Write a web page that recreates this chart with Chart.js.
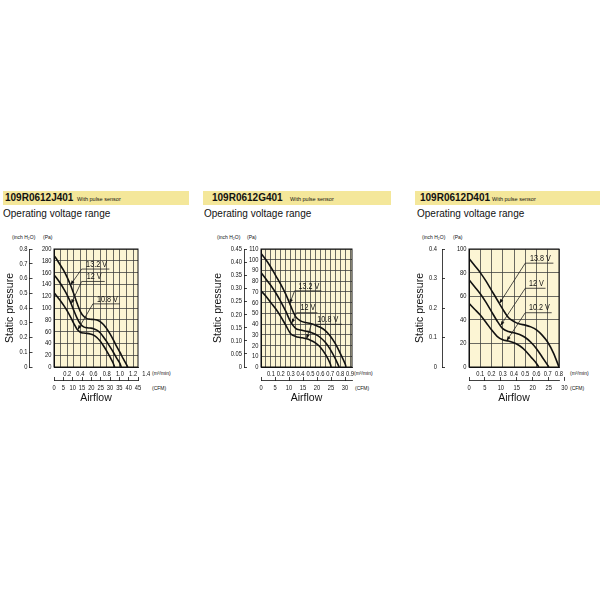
<!DOCTYPE html>
<html><head><meta charset="utf-8">
<script src="https://cdn.jsdelivr.net/npm/chart.js@4.4.1/dist/chart.umd.min.js"></script>
<style>
html,body{margin:0;padding:0;background:#fff;}
body{width:600px;height:600px;position:relative;overflow:hidden;font-family:'Liberation Sans',Arial,Helvetica,sans-serif;color:#111;}
.abs{position:absolute;white-space:nowrap;}
.band{position:absolute;top:191px;height:14px;background:#f4e79a;}
.model{font-weight:bold;font-size:10px;line-height:10px;top:193px;}
.sub{font-size:5.5px;line-height:6px;top:196px;}
.op{font-size:10px;line-height:10px;top:209px;}
.unit{font-size:5px;line-height:5px;}
canvas{position:absolute;top:230px;}
</style></head>
<body>
<div class="band" style="left:3px;width:186px"></div>
<div class="band" style="left:203px;width:188px"></div>
<div class="band" style="left:415px;width:185px"></div>
<div class="abs model" style="left:5px">109R0612J401</div>
<div class="abs model" style="left:212px">109R0612G401</div>
<div class="abs model" style="left:420px">109R0612D401</div>
<div class="abs sub" style="left:77px">With pulse sensor</div>
<div class="abs sub" style="left:290px">With pulse sensor</div>
<div class="abs sub" style="left:492px">With pulse sensor</div>
<div class="abs op" style="left:3px">Operating voltage range</div>
<div class="abs op" style="left:204px">Operating voltage range</div>
<div class="abs op" style="left:417px">Operating voltage range</div>

<div class="abs unit" style="left:12px;top:234.5px">(inch H₂O)</div>
<div class="abs unit" style="left:43px;top:234.5px">(Pa)</div>
<div class="abs unit" style="left:217px;top:234.5px">(inch H₂O)</div>
<div class="abs unit" style="left:247px;top:234.5px">(Pa)</div>
<div class="abs unit" style="left:422px;top:234.5px">(inch H₂O)</div>
<div class="abs unit" style="left:453px;top:234.5px">(Pa)</div>

<div class="abs unit" style="left:152px;top:370.5px">(m³/min)</div>
<div class="abs unit" style="left:152px;top:386px">(CFM)</div>
<div class="abs unit" style="left:354px;top:370.5px">(m³/min)</div>
<div class="abs unit" style="left:355px;top:386px">(CFM)</div>
<div class="abs unit" style="left:570px;top:370.5px">(m³/min)</div>
<div class="abs unit" style="left:570px;top:386px">(CFM)</div>

<canvas id="c1" width="200" height="180" style="left:0px"></canvas>
<canvas id="c2" width="195" height="180" style="left:205px"></canvas>
<canvas id="c3" width="190" height="180" style="left:410px"></canvas>

<script>
// ===== Panel 1: 109R0612J401 (flow in m3/min, pressure in Pa) =====
const J_FLOW_132 = [0,0.05,0.1,0.15,0.2,0.25,0.3,0.35,0.4,0.45,0.5,0.55,0.6,0.65,0.7,0.75,0.8,0.85,0.9,0.95,1.0,1.05,1.1,1.12];
const J_PA_132   = [189,181,172,163,152,139,124,108,94,86,82,81,80.5,79.5,77,72,65,56,46,35,25,14,4,0];
const J_FLOW_120 = [0,0.05,0.1,0.15,0.2,0.25,0.3,0.35,0.4,0.45,0.5,0.55,0.6,0.65,0.7,0.75,0.8,0.85,0.9,0.95,1.0,1.02];
const J_PA_120   = [156,149,141,132,122,110,96,83,73,68,66.5,66,65,62.5,58,51,43,34,25,15,6,0];
const J_FLOW_108 = [0,0.05,0.1,0.15,0.2,0.25,0.3,0.35,0.4,0.45,0.5,0.55,0.6,0.65,0.7,0.75,0.8,0.85,0.9,0.92];
const J_PA_108   = [126,119,112,104,95,85,74,64,59,57.5,57,56,54,50,44,36,27,17,6,0];
const J_PA_TICKS = [0,20,40,60,80,100,120,140,160,180,200];
const J_IN_TICKS = [0,0.1,0.2,0.3,0.4,0.5,0.6,0.7,0.8];
const J_IN_LABELS = ['0','0.1','0.2','0.3','0.4','0.5','0.6','0.7','0.8'];
const J_M3_GRID = [0.1,0.2,0.3,0.4,0.5,0.6,0.7,0.8,0.9,1.0,1.1,1.2];
const J_M3_LABEL_VALS = [0.2,0.4,0.6,0.8,1.0,1.2,1.4];
const J_M3_LABELS = ['0.2','0.4','0.6','0.8','1.0','1.2','1.4'];
const J_CFM_TICKS = [0,5,10,15,20,25,30,35,40,45];
const J_NOTE_TEXT = ['13.2 V','12 V','10.8 V'];
const J_NOTE_Y = [166,145,107];
const J_NOTE_X0 = [0.42,0.42,0.59];
const J_NOTE_X1 = [0.84,0.77,1.0];
const J_NOTE_TIP = [0.25,0.26,0.36];

// ===== Panel 2: 109R0612G401 =====
const G_FLOW_132 = [0,0.05,0.1,0.15,0.2,0.25,0.3,0.35,0.4,0.45,0.5,0.55,0.6,0.65,0.7,0.75,0.8,0.85,0.86];
const G_PA_132   = [106,100,93,85,77,68,57,47,43,41.5,40.5,39,37,34,29,22,13,3,0];
const G_FLOW_120 = [0,0.05,0.1,0.15,0.2,0.25,0.3,0.35,0.4,0.45,0.5,0.55,0.6,0.65,0.7,0.75,0.79];
const G_PA_120   = [88,82,76,69,61,52,42,36,34.5,33.5,32.5,30.5,27.5,23,16.5,8,0];
const G_FLOW_108 = [0,0.05,0.1,0.15,0.2,0.25,0.3,0.35,0.4,0.45,0.5,0.55,0.6,0.65,0.7,0.71];
const G_PA_108   = [71,66,60,54,47,39,31,28.5,27.5,26.5,25,22.5,18.5,12,3,0];
const G_PA_TICKS = [0,10,20,30,40,50,60,70,80,90,100,110];
const G_IN_TICKS = [0,0.05,0.1,0.15,0.2,0.25,0.3,0.35,0.4,0.45];
const G_IN_LABELS = ['0','0.05','0.10','0.15','0.20','0.25','0.30','0.35','0.40','0.45'];
const G_M3_GRID = [0.05,0.1,0.15,0.2,0.25,0.3,0.35,0.4,0.45,0.5,0.55,0.6,0.65,0.7,0.75,0.8,0.85,0.9];
const G_M3_LABEL_VALS = [0.1,0.2,0.3,0.4,0.5,0.6,0.7,0.8,0.9];
const G_M3_LABELS = ['0.1','0.2','0.3','0.4','0.5','0.6','0.7','0.8','0.9'];
const G_CFM_TICKS = [0,5,10,15,20,25,30];
const G_NOTE_TEXT = ['13.2 V','12 V','10.8 V'];
const G_NOTE_Y = [71,50.6,39.8];
const G_NOTE_X0 = [0.34,0.36,0.51];
const G_NOTE_X1 = [0.61,0.57,0.82];
const G_NOTE_TIP = [0.29,0.31,0.46];

// ===== Panel 3: 109R0612D401 =====
const D_FLOW_138 = [0,0.05,0.1,0.15,0.2,0.25,0.3,0.35,0.4,0.45,0.5,0.55,0.6,0.65,0.7,0.75,0.8];
const D_PA_138   = [92,86,80,73,65,57,49,42,38.5,36.5,35.5,34,31.5,27,21,12,0];
const D_FLOW_120 = [0,0.05,0.1,0.15,0.2,0.25,0.3,0.35,0.4,0.45,0.5,0.55,0.6,0.65,0.71];
const D_PA_120   = [74,68,62,55,47,39,32.5,30,29,27.5,25,21,15.5,8.5,0];
const D_FLOW_102 = [0,0.05,0.1,0.15,0.2,0.25,0.3,0.35,0.4,0.45,0.5,0.55,0.6,0.62];
const D_PA_102   = [54,49,44,38,31.5,26,23,22,20.5,18,14,8.5,3,0];
const D_PA_TICKS = [0,20,40,60,80,100];
const D_IN_TICKS = [0,0.1,0.2,0.3,0.4];
const D_IN_LABELS = ['0','0.1','0.2','0.3','0.4'];
const D_M3_GRID = [0.1,0.2,0.3,0.4,0.5,0.6,0.7,0.8];
const D_M3_LABEL_VALS = [0.1,0.2,0.3,0.4,0.5,0.6,0.7,0.8];
const D_M3_LABELS = ['0.1','0.2','0.3','0.4','0.5','0.6','0.7','0.8'];
const D_CFM_TICKS = [0,5,10,15,20,25,30];
const D_NOTE_TEXT = ['13.8 V','12 V','10.2 V'];
const D_NOTE_Y = [88,66.7,46];
const D_NOTE_X0 = [0.50,0.50,0.50];
const D_NOTE_X1 = [0.75,0.68,0.735];
const D_NOTE_TIP = [0.27,0.28,0.335];

const CFM_PER_M3 = 35.3147;

const NARROW = "'Liberation Sans Narrow','Liberation Sans',Arial,sans-serif";
const SANS = "'Liberation Sans',Arial,Helvetica,sans-serif";
const near = (a,b) => Math.abs(a-b) < 1e-6;

// emulate a condensed face (no narrow font installed): squeeze "Narrow" text horizontally
function condense(canvas){
  const ctx = canvas.getContext('2d');
  const orig = ctx.fillText;
  ctx.fillText = function(text, x, y, maxWidth){
    if (String(this.font).indexOf('Narrow') >= 0) {
      const w = this.measureText(text).width * 0.8;
      return orig.call(this, text, x, y, maxWidth !== undefined ? Math.min(maxWidth, w) : w);
    }
    return maxWidth !== undefined ? orig.call(this, text, x, y, maxWidth) : orig.call(this, text, x, y);
  };
}

const panelDecor = {
  id:'panelDecor',
  beforeDraw(chart){
    const {ctx, chartArea:a} = chart;
    ctx.save(); ctx.fillStyle = '#fcf5d4';
    ctx.fillRect(a.left, a.top, a.right-a.left, a.bottom-a.top); ctx.restore();
  },
  afterDraw(chart, args, opts){
    const {ctx, chartArea:a} = chart;
    const xs = chart.scales.xm3, ys = chart.scales.ypa;
    ctx.save();
    ctx.strokeStyle = '#111'; ctx.lineWidth = 1;
    ctx.strokeRect(a.left, a.top, a.right-a.left, a.bottom-a.top);
    (opts.notes || []).forEach(n => {
      const ds = chart.data.datasets[n.series].data;
      let ty = ds[0].y;
      for (let i = 1; i < ds.length; i++) {
        if (ds[i].x >= n.tip) { const d0 = ds[i-1], d1 = ds[i]; ty = d0.y + (d1.y-d0.y)*(n.tip-d0.x)/(d1.x-d0.x); break; }
      }
      const x0 = xs.getPixelForValue(n.x0), x1 = xs.getPixelForValue(n.x1), ly = ys.getPixelForValue(n.y);
      const tx = xs.getPixelForValue(n.tip), tp = ys.getPixelForValue(ty);
      ctx.strokeStyle = '#222'; ctx.lineWidth = 0.8;
      ctx.beginPath(); ctx.moveTo(x1, ly); ctx.lineTo(x0, ly); ctx.lineTo(tx, tp); ctx.stroke();
      const ang = Math.atan2(tp-ly, tx-x0), L = 4.5, W = 1.7;
      ctx.fillStyle = '#111'; ctx.beginPath(); ctx.moveTo(tx, tp);
      ctx.lineTo(tx - L*Math.cos(ang) + W*Math.sin(ang), tp - L*Math.sin(ang) - W*Math.cos(ang));
      ctx.lineTo(tx - L*Math.cos(ang) - W*Math.sin(ang), tp - L*Math.sin(ang) + W*Math.cos(ang));
      ctx.closePath(); ctx.fill();
      ctx.font = '9px ' + NARROW; ctx.textAlign = 'center'; ctx.textBaseline = 'bottom'; ctx.fillStyle = '#111';
      ctx.fillText(n.text, (x0+x1)/2 + 1, ly - 0.3);
    });
    ctx.restore();
  }
};

function makePanel(id, p){
  const canvas = document.getElementById(id);
  condense(canvas);
  const datasets = p.series.map(s => ({
    label: s.label,
    data: s.flow.map((f,i) => ({x:f, y:s.pa[i]})),
    borderColor:'#111', borderWidth:1.6, pointRadius:0, fill:false,
    cubicInterpolationMode:'monotone', xAxisID:'xm3', yAxisID:'ypa'
  }));
  const m3Ticks = [...new Set([...p.m3Grid, ...p.m3LabelVals])].sort((a,b)=>a-b);
  const notes = p.noteText.map((t,i) => ({text:t, series:i, y:p.noteY[i], x0:p.noteX0[i], x1:p.noteX1[i], tip:p.noteTip[i]}));
  const tickFont = {family:NARROW, size:7.2};
  const GRID = '#3a3a3a';
  new Chart(canvas, {
    type:'line',
    data:{datasets},
    plugins:[panelDecor],
    options:{
      responsive:false, animation:false,
      layout:{padding:{left:0, right:p.padRight, top:19, bottom:4}},
      plugins:{legend:{display:false}, tooltip:{enabled:false}, panelDecor:{notes}},
      scales:{
        ypa:{type:'linear', position:'left', weight:0, min:0, max:p.paMax, bounds:'data',
          afterBuildTicks:s => { s.ticks = p.paTicks.map(v => ({value:v})); },
          afterFit:s => { s.width = p.paW; },
          ticks:{font:tickFont, color:'#111', padding:2.5, autoSkip:false, callback:v => String(v)},
          grid:{color:GRID, lineWidth:0.75, drawTicks:false},
          border:{display:true, color:'#111', width:1}},
        yin:{type:'linear', position:'left', weight:1, min:0, max:p.inMax, bounds:'data',
          afterBuildTicks:s => { s.ticks = p.inTicks.map(v => ({value:v})); },
          afterFit:s => { s.width = p.inW; },
          ticks:{font:tickFont, color:'#111', padding:p.inPad, autoSkip:false, callback:(v,i) => p.inLabels[i]},
          grid:{display:true, drawOnChartArea:false, drawTicks:true, tickLength:-3, color:'#111', lineWidth:0.8},
          border:{display:true, color:'#111', width:0.8},
          title:{display:true, text:'Static pressure', font:{family:SANS, size:10.5}, color:'#111', padding:{top:p.titlePad, bottom:0}}},
        xm3:{type:'linear', position:'bottom', weight:0, min:0, max:p.m3Max, bounds:'data',
          afterBuildTicks:s => { s.ticks = m3Ticks.map(v => ({value:v})); },
          afterFit:s => { s.height = 13; },
          ticks:{font:tickFont, color:'#111', padding:2.5, autoSkip:false, maxRotation:0, minRotation:0,
            callback:v => { const k = p.m3LabelVals.findIndex(l => near(l,v)); return k < 0 ? '' : p.m3Labels[k]; }},
          grid:{drawTicks:false, lineWidth:0.75,
            color:c => (c.tick && c.tick.value <= p.m3Max + 1e-9 && p.m3Grid.some(g => near(g, c.tick.value))) ? GRID : 'rgba(0,0,0,0)'},
          border:{display:true, color:'#111', width:1}},
        xcfm:{type:'linear', position:'bottom', weight:1, min:0, max:p.m3Max*CFM_PER_M3, bounds:'data',
          afterBuildTicks:s => { s.ticks = p.cfmTicks.map(v => ({value:v})); },
          afterFit:s => { s.height = 26; },
          ticks:{font:tickFont, color:'#111', padding:6.5, autoSkip:false, maxRotation:0, minRotation:0, callback:v => String(v)},
          grid:{display:true, drawOnChartArea:false, drawTicks:true, tickLength:-3, color:'#111', lineWidth:0.8},
          border:{display:true, color:'#111', width:0.8},
          title:{display:true, text:'Airflow', font:{family:SANS, size:10.5}, color:'#111', padding:{top:0, bottom:2}}}
      }
    }
  });
}

makePanel('c1', {
  series:[{label:'13.2 V', flow:J_FLOW_132, pa:J_PA_132},{label:'12 V', flow:J_FLOW_120, pa:J_PA_120},{label:'10.8 V', flow:J_FLOW_108, pa:J_PA_108}],
  paTicks:J_PA_TICKS, paMax:200, inTicks:J_IN_TICKS, inLabels:J_IN_LABELS, inMax:0.8,
  m3Grid:J_M3_GRID, m3LabelVals:J_M3_LABEL_VALS, m3Labels:J_M3_LABELS, m3Max:45/CFM_PER_M3, cfmTicks:J_CFM_TICKS,
  noteText:J_NOTE_TEXT, noteY:J_NOTE_Y, noteX0:J_NOTE_X0, noteX1:J_NOTE_X1, noteTip:J_NOTE_TIP,
  paW:24.5, inW:29.5, inPad:5, titlePad:3.7, padRight:62
});
makePanel('c2', {
  series:[{label:'13.2 V', flow:G_FLOW_132, pa:G_PA_132},{label:'12 V', flow:G_FLOW_120, pa:G_PA_120},{label:'10.8 V', flow:G_FLOW_108, pa:G_PA_108}],
  paTicks:G_PA_TICKS, paMax:110, inTicks:G_IN_TICKS, inLabels:G_IN_LABELS, inMax:0.45,
  m3Grid:G_M3_GRID, m3LabelVals:G_M3_LABEL_VALS, m3Labels:G_M3_LABELS, m3Max:0.92, cfmTicks:G_CFM_TICKS,
  noteText:G_NOTE_TEXT, noteY:G_NOTE_Y, noteX0:G_NOTE_X0, noteX1:G_NOTE_X1, noteTip:G_NOTE_TIP,
  paW:17, inW:39, inPad:5, titlePad:6.7, padRight:48
});
makePanel('c3', {
  series:[{label:'13.8 V', flow:D_FLOW_138, pa:D_PA_138},{label:'12 V', flow:D_FLOW_120, pa:D_PA_120},{label:'10.2 V', flow:D_FLOW_102, pa:D_PA_102}],
  paTicks:D_PA_TICKS, paMax:100, inTicks:D_IN_TICKS, inLabels:D_IN_LABELS, inMax:0.4,
  m3Grid:D_M3_GRID, m3LabelVals:D_M3_LABEL_VALS, m3Labels:D_M3_LABELS, m3Max:0.8, cfmTicks:D_CFM_TICKS,
  noteText:D_NOTE_TEXT, noteY:D_NOTE_Y, noteX0:D_NOTE_X0, noteX1:D_NOTE_X1, noteTip:D_NOTE_TIP,
  paW:27, inW:32, inPad:8, titlePad:3.7, padRight:41
});
</script>
</body></html>
